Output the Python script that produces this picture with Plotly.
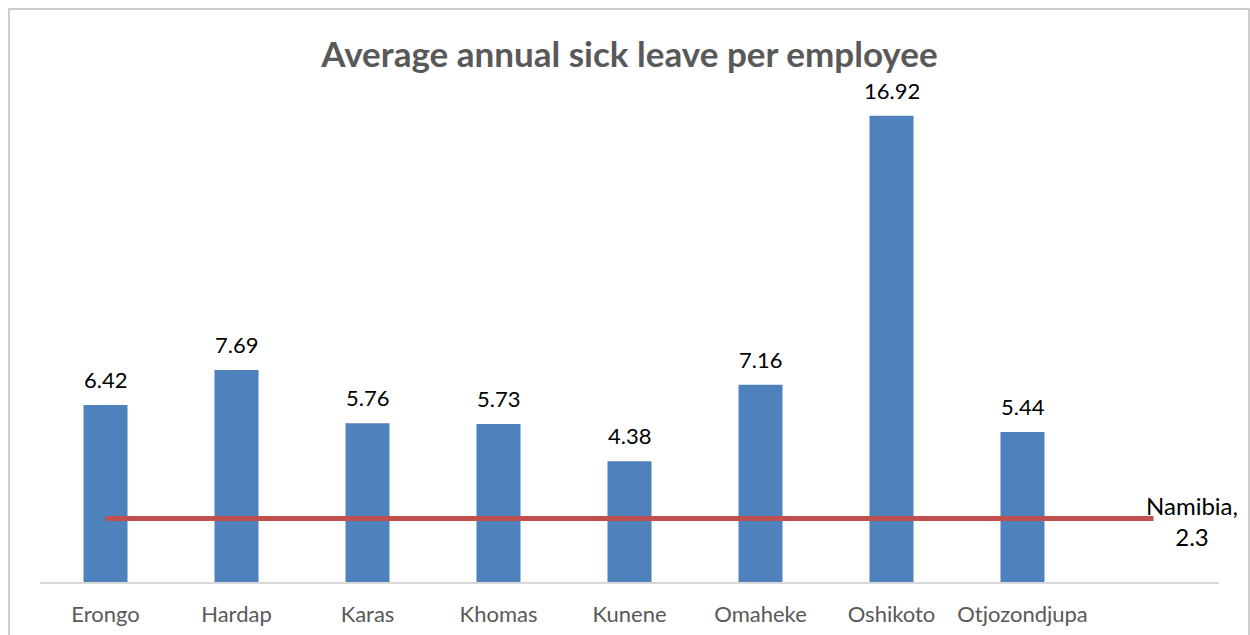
import plotly.graph_objects as go

categories = ["Erongo", "Hardap", "Karas", "Khomas", "Kunene", "Omaheke", "Oshikoto", "Otjozondjupa", ""]
sick_leave = [6.42, 7.69, 5.76, 5.73, 4.38, 7.16, 16.92, 5.44]
namibia = [2.3] * 9
namibia_label = "Namibia,<br>2.3"
title = "Average annual sick leave per employee"

W, H = 1250, 635
ml, mr, mt, mb = 40, 31, 86, 53
xpos = list(range(len(categories)))

fig = go.Figure()
fig.add_trace(go.Bar(
    x=xpos[:len(sick_leave)], y=sick_leave, width=0.336,
    marker=dict(color="#4f81bd", line=dict(width=0)),
    showlegend=False, hoverinfo="skip",
))
fig.add_trace(go.Scatter(
    x=xpos, y=namibia, mode="lines",
    line=dict(color="#c0504d", width=5),
    showlegend=False, hoverinfo="skip",
))
for xi, v in zip(xpos, sick_leave):
    fig.add_annotation(x=xi, y=v, text=f"{v:.2f}", showarrow=False,
                       xanchor="center", yanchor="bottom", yshift=10,
                       font=dict(family="Lato", size=22, color="#000000"))
fig.add_annotation(
    x=xpos[-1], y=namibia[-1], text=namibia_label, showarrow=False,
    xanchor="left", yanchor="middle", align="center", xshift=-10, yshift=-2,
    font=dict(family="Lato", size=24, color="#000000"),
)

ph = H - mt - mb
pw = W - ml - mr
fig.add_shape(type="rect", xref="paper", yref="paper",
              x0=(9 - ml) / pw, x1=(1249 - ml) / pw,
              y0=(H - mb - 660) / ph, y1=(H - mb - 9) / ph,
              line=dict(color="#bfbfbf", width=1.5), layer="below")

fig.update_layout(
    width=W, height=H,
    margin=dict(l=ml, r=mr, t=mt, b=mb),
    paper_bgcolor="white", plot_bgcolor="white",
    title=dict(text=f"<b>{title}</b>", x=0.5, xref="paper", xanchor="center",
               y=1 - 55 / H, yanchor="middle",
               font=dict(family="Lato", size=35, color="#595959")),
    xaxis=dict(range=[-0.5, len(categories) - 0.5], tickvals=xpos, ticktext=categories,
               showgrid=False, zeroline=False, showline=True, linecolor="#d9d9d9", linewidth=1.5,
               ticks="", ticklen=0, ticklabelstandoff=12, automargin=False,
               tickfont=dict(family="Lato", size=22, color="#595959")),
    yaxis=dict(range=[0, 18], visible=False, showgrid=False, zeroline=False, automargin=False),
)
fig.write_html("out.html", config={"displayModeBar": False},
               post_script="document.body.style.margin='0';")
